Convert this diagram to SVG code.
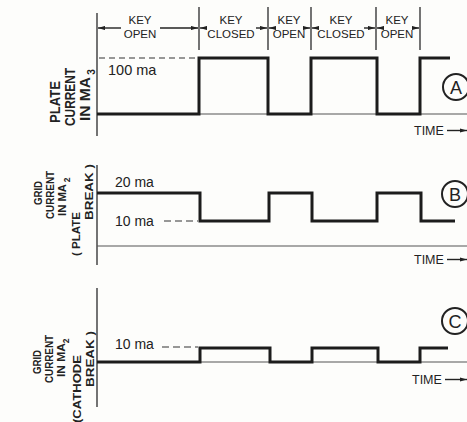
<svg xmlns="http://www.w3.org/2000/svg" width="467" height="422" viewBox="0 0 467 422">
<defs>
<marker id="ah" viewBox="0 0 10 6" refX="10" refY="3" markerWidth="7" markerHeight="4.2" markerUnits="userSpaceOnUse" orient="auto-start-reverse">
<path d="M0,0 L10,3 L0,6 Z" fill="#222"/>
</marker>
<style>
.ax{stroke:#2a2a2a;stroke-width:1.3;fill:none}
.base{stroke:#555;stroke-width:1.1;fill:none}
.wave{stroke:#1c1c1c;stroke-width:3;fill:none;stroke-linejoin:miter}
.dash{stroke:#333;stroke-width:1.2;stroke-dasharray:6 4;fill:none}
.dimr{stroke:#222;stroke-width:1.4;fill:none;marker-end:url(#ah)}
.t{font-family:"Liberation Sans",Arial,sans-serif;fill:#222}
.k{font-size:11.5px;text-anchor:middle}
.lab{text-anchor:middle;font-weight:bold}
.circ{stroke:#222;stroke-width:2;fill:none}
</style>
</defs>
<rect width="467" height="422" fill="#fdfdfb"/>

<g id="connectors">
<line class="ax" x1="199" y1="7" x2="199" y2="50"/>
<line class="ax" x1="268" y1="7" x2="268" y2="50"/>
<line class="ax" x1="311" y1="7" x2="311" y2="50"/>
<line class="ax" x1="376" y1="7" x2="376" y2="50"/>
<line class="ax" x1="420" y1="7" x2="420" y2="50"/>
<line class="dimr" x1="121" y1="28" x2="98" y2="28"/>
<line class="dimr" x1="160" y1="28" x2="198" y2="28"/>
<line class="dimr" x1="207" y1="28" x2="200" y2="28"/>
<line class="dimr" x1="256" y1="28" x2="267" y2="28"/>
<line class="dimr" x1="275" y1="28" x2="269" y2="28"/>
<line class="dimr" x1="304" y1="28" x2="310" y2="28"/>
<line class="dimr" x1="319" y1="28" x2="312" y2="28"/>
<line class="dimr" x1="364" y1="28" x2="375" y2="28"/>
<line class="dimr" x1="382" y1="28" x2="377" y2="28"/>
<line class="dimr" x1="413" y1="28" x2="419" y2="28"/>
</g>

<g id="panelA">
<line class="ax" x1="97" y1="13" x2="97" y2="136"/>
<line class="base" x1="97" y1="114" x2="467" y2="114"/>
<line class="dash" x1="99" y1="58" x2="198" y2="58"/>
<path class="wave" d="M97,114 H199 V58 H268 V114 H311 V58 H377 V114 H420 V58 H450"/>
<text class="t" x="108" y="75" font-size="14.5">100 ma</text>
<text class="t lab" font-size="14" transform="translate(60,102) rotate(-90)" textLength="42" lengthAdjust="spacingAndGlyphs">PLATE</text>
<text class="t lab" font-size="14" transform="translate(75,97) rotate(-90)" textLength="58" lengthAdjust="spacingAndGlyphs">CURRENT</text>
<text class="t lab" font-size="14" transform="translate(90,99) rotate(-90)" textLength="44" lengthAdjust="spacingAndGlyphs">IN MA</text>
<text class="t lab" font-size="10" transform="translate(95,72) rotate(-90)">3</text>
<circle class="circ" cx="456" cy="87" r="13"/>
<text class="t" x="456" y="93.5" font-size="18" text-anchor="middle">A</text>
<text class="t" x="414" y="135" font-size="12.5">TIME</text>
<line class="dimr" x1="447" y1="130.5" x2="467" y2="130.5"/>
</g>

<g id="panelB">
<line class="ax" x1="97" y1="165" x2="97" y2="265"/>
<line class="base" x1="97" y1="246" x2="467" y2="246"/>
<line class="dash" x1="164" y1="221" x2="198" y2="221" style="stroke-dasharray:7 4"/>
<path class="wave" d="M97,193 H200 V221 H269 V193 H312 V221 H377 V193 H421 V221 H455"/>
<text class="t" x="115" y="187" font-size="14">20 ma</text>
<text class="t" x="115" y="226" font-size="14">10 ma</text>
<text class="t lab" font-size="11.5" transform="translate(42,193) rotate(-90)" textLength="24" lengthAdjust="spacingAndGlyphs">GRID</text>
<text class="t lab" font-size="11.5" transform="translate(54,195) rotate(-90)" textLength="48" lengthAdjust="spacingAndGlyphs">CURRENT</text>
<text class="t lab" font-size="11.5" transform="translate(66,200) rotate(-90)" textLength="32" lengthAdjust="spacingAndGlyphs">IN MA</text>
<text class="t lab" font-size="8.5" transform="translate(70,180) rotate(-90)">2</text>
<text class="t lab" font-size="11.5" transform="translate(80,234) rotate(-90)" textLength="44" lengthAdjust="spacingAndGlyphs">( PLATE</text>
<text class="t lab" font-size="11.5" transform="translate(93,192) rotate(-90)" textLength="56" lengthAdjust="spacingAndGlyphs">BREAK )</text>
<circle class="circ" cx="455" cy="194" r="13"/>
<text class="t" x="455" y="200.5" font-size="18" text-anchor="middle">B</text>
<text class="t" x="414" y="264" font-size="12.5">TIME</text>
<line class="dimr" x1="447" y1="259.5" x2="467" y2="259.5"/>
</g>

<g id="panelC">
<line class="ax" x1="97" y1="288" x2="97" y2="407"/>
<line class="base" x1="97" y1="362" x2="467" y2="362"/>
<line class="dash" x1="162" y1="347" x2="198" y2="347" style="stroke-dasharray:7 4"/>
<path class="wave" d="M97,362 H200 V348 H270 V362 H312 V348 H378 V362 H420 V348 H448"/>
<text class="t" x="115" y="349" font-size="14">10 ma</text>
<text class="t lab" font-size="11.5" transform="translate(41,362) rotate(-90)" textLength="24" lengthAdjust="spacingAndGlyphs">GRID</text>
<text class="t lab" font-size="11.5" transform="translate(53,359) rotate(-90)" textLength="48" lengthAdjust="spacingAndGlyphs">CURRENT</text>
<text class="t lab" font-size="11.5" transform="translate(65,360) rotate(-90)" textLength="34" lengthAdjust="spacingAndGlyphs">IN MA</text>
<text class="t lab" font-size="8.5" transform="translate(69,341) rotate(-90)">2</text>
<text class="t lab" font-size="11.5" transform="translate(81,389) rotate(-90)" textLength="68" lengthAdjust="spacingAndGlyphs">(CATHODE</text>
<text class="t lab" font-size="11.5" transform="translate(94,359) rotate(-90)" textLength="56" lengthAdjust="spacingAndGlyphs">BREAK )</text>
<circle class="circ" cx="455" cy="321" r="13"/>
<text class="t" x="455" y="327.5" font-size="18" text-anchor="middle">C</text>
<text class="t" x="412" y="384" font-size="12.5">TIME</text>
<line class="dimr" x1="445" y1="379.5" x2="467" y2="379.5"/>
</g>

<g id="keylabels">
<text class="t k" x="140" y="24">KEY</text>
<text class="t k" x="140" y="38">OPEN</text>
<text class="t k" x="231" y="24">KEY</text>
<text class="t k" x="231" y="38">CLOSED</text>
<text class="t k" x="289" y="24">KEY</text>
<text class="t k" x="289" y="38">OPEN</text>
<text class="t k" x="341" y="24">KEY</text>
<text class="t k" x="341" y="38">CLOSED</text>
<text class="t k" x="397" y="24">KEY</text>
<text class="t k" x="397" y="38">OPEN</text>
</g>
</svg>
